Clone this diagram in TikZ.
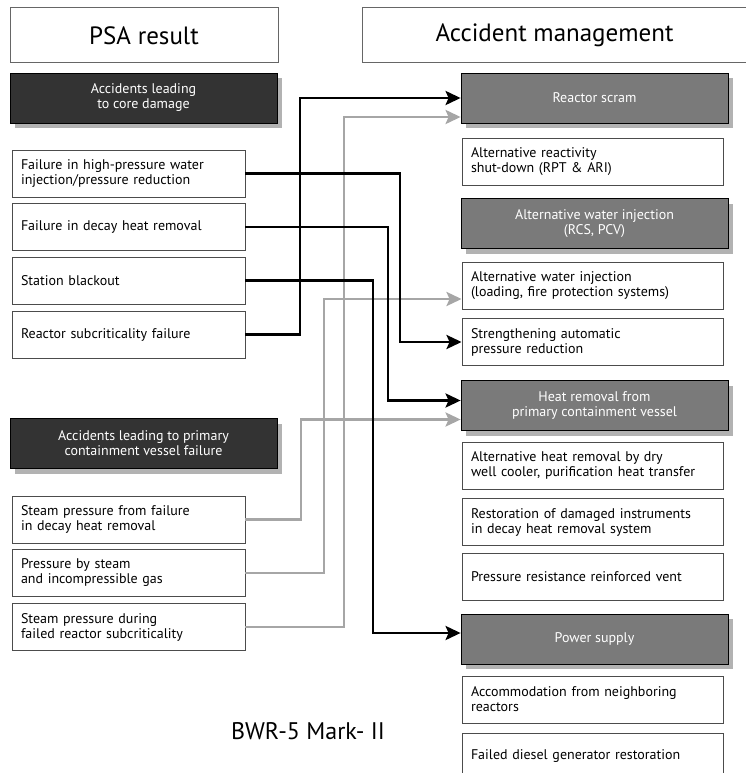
\documentclass[tikz,border=0pt]{standalone}
\usepackage{fontspec}
\setmainfont{PT Sans}
\usetikzlibrary{shadows, arrows.meta}
\tikzset{
  hdr/.style={draw=black!60, line width=1pt, fill=white, minimum height=55pt, inner sep=0pt,
              minimum width=#1, font=\fontsize{25}{28}\selectfont},
  hdr/.default=268pt,
  grp/.style={draw=black, line width=0.8pt, fill=#1, text=white, minimum width=267pt,
              minimum height=50pt, inner sep=0pt, align=center, font=\fontsize{14}{15}\selectfont,
              drop shadow={shadow xshift=5pt, shadow yshift=-5pt, fill=black!30, opacity=1}},
  grp/.default=black!80,
  item/.style={draw=black!70, line width=0.9pt, fill=white, text width=#1, inner xsep=9pt,
               inner ysep=0pt, minimum height=47pt, align=left, font=\fontsize{14}{15}\selectfont},
  item/.default=215pt,
  blk/.style={line width=2.8pt, draw=black, -{Stealth[length=15pt, width=14pt, inset=3pt]}},
  gry/.style={blk, draw=black!35},
}

\begin{document}
\begin{tikzpicture}[x=1pt, y=-1pt]
  \useasboundingbox (0,0) rectangle (745,773);

  \node[hdr] (psa) at (144,35.5) {PSA result};
  \node[hdr=385pt] (am) at (554.5,35.5) {Accident management};

  \node[grp] (core) at (143.5,98) {Accidents leading\\to core damage};
  \node[item] (f1) at (128.5,173.5) {Failure in high-pressure water\\injection/pressure reduction};
  \node[item] (f2) at (128.5,227) {Failure in decay heat removal};
  \node[item] (f3) at (128.5,280.5) {Station blackout};
  \node[item] (f4) at (128.5,334.5) {Reactor subcriticality failure};

  \node[grp] (pcv) at (143.5,443.5) {Accidents leading to primary\\containment vessel failure};
  \node[item] (f5) at (128.5,519.5) {Steam pressure from failure\\in decay heat removal};
  \node[item] (f6) at (128.5,573) {Pressure by steam\\and incompressible gas};
  \node[item] (f7) at (128.5,627) {Steam pressure during\\failed reactor subcriticality};

  \node[grp=black!52] (scram) at (594.5,98) {Reactor scram};
  \node[item=243pt] (altreact) at (592.5,161.5) {Alternative reactivity\\shut-down (RPT \& ARI)};
  \node[grp=black!52] (altwater) at (594.5,223.5) {Alternative water injection\\(RCS, PCV)};
  \node[item=243pt] (altload) at (592.5,285.5) {Alternative water injection\\(loading, fire protection systems)};
  \node[item=243pt] (strength) at (592.5,342) {Strengthening automatic\\pressure reduction};
  \node[grp=black!52] (heat) at (594.5,405.5) {Heat removal from\\primary containment vessel};
  \node[item=243pt] (altheat) at (592.5,465.5) {Alternative heat removal by dry\\well cooler, purification heat transfer};
  \node[item=243pt] (restore) at (592.5,522) {Restoration of damaged instruments\\in decay heat removal system};
  \node[item=243pt] (vent) at (592.5,577) {Pressure resistance reinforced vent};
  \node[grp=black!52] (power) at (594.5,639) {Power supply};
  \node[item=243pt] (accom) at (592.5,699.5) {Accommodation from neighboring\\reactors};
  \node[item=243pt] (diesel) at (592.5,756.5) {Failed diesel generator restoration};

  \node[font=\fontsize{24}{26}\selectfont] (plant) at (308,731) {BWR-5 Mark- II};

  \coordinate (v1) at (300,0);
  \coordinate (v2) at (400,0);
  \coordinate (v3) at (388,0);
  \coordinate (v4) at (373,0);
  \coordinate (g1) at (301,0);
  \coordinate (g2) at (324,0);
  \coordinate (g3) at (344,0);
  \coordinate (heatA) at ([yshift=5pt]heat.west);
  \coordinate (heatB) at ([yshift=-14pt]heat.west);
  \coordinate (powerA) at ([yshift=6pt]power.west);
  \coordinate (loadB) at ([yshift=-13.5pt]altload.west);
  \coordinate (scramB) at ([yshift=-19pt]scram.west);

  \draw[gry] (f5.east) -| (g1 |- heatB) -- (heatB);
  \draw[gry] (f6.east) -| (g2 |- loadB) -- (loadB);
  \draw[gry] (f7.east) -| (g3 |- scramB) -- (scramB);

  \draw[blk] (f4.east) -| (v1 |- scram.west) -- (scram.west);
  \draw[blk] (f1.east) -| (v2 |- strength.west) -- (strength.west);
  \draw[blk] (f2.east) -| (v3 |- heatA) -- (heatA);
  \draw[blk] (f3.east) -| (v4 |- powerA) -- (powerA);
\end{tikzpicture}
\end{document}
